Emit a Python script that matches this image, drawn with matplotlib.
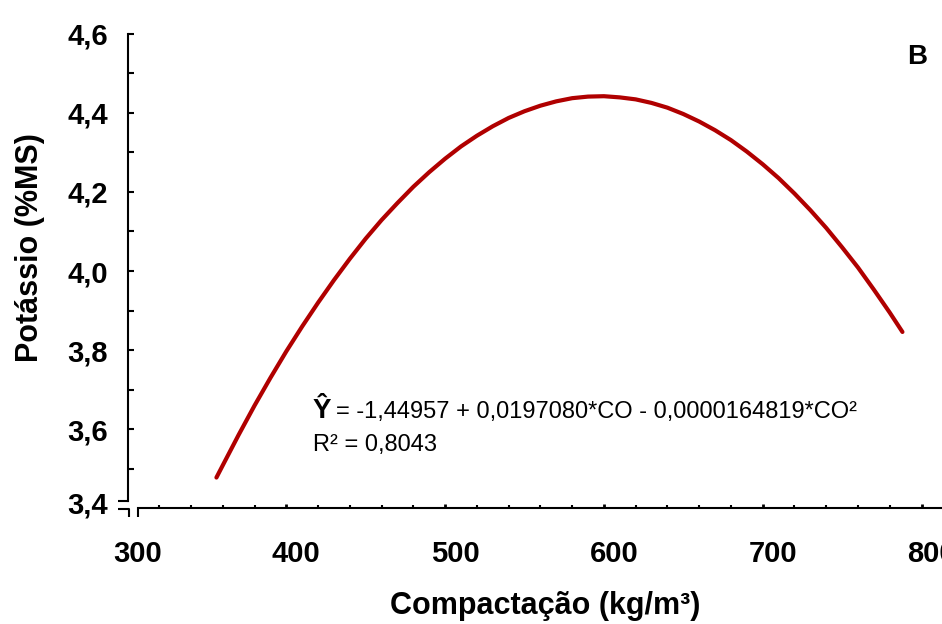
import matplotlib
matplotlib.use("Agg")
import matplotlib.pyplot as plt
from matplotlib.ticker import MultipleLocator, FixedLocator
from matplotlib.transforms import ScaledTranslation

# values
compactacao = [356, 360, 370, 380, 390, 400, 410, 420, 430, 440, 450, 460,
               470, 480, 490, 500, 510, 520, 530, 540, 550, 560, 570, 580,
               590, 600, 610, 620, 630, 640, 650, 660, 670, 680, 690, 700,
               710, 720, 730, 740, 750, 760, 770, 780, 788]
potassio = [3.478, 3.509, 3.586, 3.660, 3.730, 3.797, 3.860, 3.920, 3.977,
            4.031, 4.082, 4.129, 4.172, 4.213, 4.250, 4.284, 4.315, 4.342,
            4.366, 4.387, 4.404, 4.418, 4.429, 4.437, 4.441, 4.442, 4.439,
            4.434, 4.425, 4.413, 4.397, 4.378, 4.356, 4.331, 4.302, 4.270,
            4.235, 4.196, 4.154, 4.109, 4.060, 4.009, 3.953, 3.895, 3.846]

x_ticks = [300, 400, 500, 600, 700, 800]
y_ticks = [3.4, 3.6, 3.8, 4.0, 4.2, 4.4, 4.6]
y_tick_labels = ["3,4", "3,6", "3,8", "4,0", "4,2", "4,4", "4,6"]

equation = "= -1,44957 + 0,0197080*CO - 0,0000164819*CO²"
r2_text = "R² = 0,8043"

W, H = 942, 624
plt.rcParams["font.family"] = ["Liberation Sans", "DejaVu Sans"]

fig = plt.figure(figsize=(W / 100, H / 100), dpi=100)
# axes placed in pixels: x=300 at px 127.5, y=3.4 at px 508.4, y=4.6 at px 33.7
left, right, top, bottom = 127.5, 942, 33.7, 508.4
ax = fig.add_axes([left / W, 1 - bottom / H, (right - left) / W, (bottom - top) / H])
ax.set_xlim(300, 300 + (right - left) / 1.588)
ax.set_ylim(3.4, 4.6)

ax.plot(compactacao, potassio, color="#B00000", linewidth=3.0,
        solid_capstyle="round", clip_on=False)

for side in ["top", "right"]:
    ax.spines[side].set_visible(False)
for side in ["left", "bottom"]:
    ax.spines[side].set_linewidth(1.5)
ax.spines["left"].set_bounds(3.4195, 4.6)
ax.spines["bottom"].set_bounds(306.4, ax.get_xlim()[1])

ax.xaxis.set_major_locator(FixedLocator(x_ticks))
ax.xaxis.set_minor_locator(MultipleLocator(20))
ax.set_xticklabels([str(v) for v in x_ticks])
ax.yaxis.set_major_locator(FixedLocator(y_ticks))
ax.yaxis.set_minor_locator(MultipleLocator(0.1))
ax.set_yticklabels(y_tick_labels)

ax.tick_params(axis="y", which="both", direction="in", length=4, width=1.5,
               labelsize=21, pad=14)
ax.tick_params(axis="x", which="major", direction="in", length=3, width=2,
               labelsize=21, pad=23)
ax.tick_params(axis="x", which="minor", direction="in", length=2.5, width=1.5)
for lab in ax.get_xticklabels() + ax.get_yticklabels():
    lab.set_fontweight("bold")

# x labels sit a little right of their ticks in the reference
dx = ScaledTranslation(10 / 100, 0, fig.dpi_scale_trans)
for lab in ax.get_xticklabels():
    lab.set_transform(lab.get_transform() + dx)
ylab0 = ax.get_yticklabels()[0]
ylab0.set_transform(ylab0.get_transform() + ScaledTranslation(0, 6 / 100, fig.dpi_scale_trans))
ax.yaxis.get_major_ticks()[0].tick1line.set_visible(False)
ax.xaxis.get_major_ticks()[0].tick1line.set_visible(False)


# axis break marks, drawn in pixel positions
def px(xp, yp):
    return 300 + (xp - left) / 1.588, 3.4 + (bottom - yp) / 395.6


brk = dict(color="black", linewidth=1.5, clip_on=False, solid_capstyle="butt")
for seg in [[(118.3, 500.7), (128.5, 500.7)],
            [(118.3, 509.3), (128.5, 509.3), (128.5, 516.7)],
            [(137.7, 509.3), (137.7, 516.7)]]:
    xs, ys = zip(*[px(a, b) for a, b in seg])
    ax.plot(xs, ys, **brk)

fig.text(30 / W, 1 - 248 / H, "Potássio (%MS)", rotation=90, fontsize=22,
         fontweight="bold", ha="center", va="center")
fig.text(545 / W, 1 - 606 / H, "Compactação (kg/m³)", fontsize=22,
         fontweight="bold", ha="center", va="center")
fig.text(917 / W, 1 - 57 / H, "B", fontsize=20, fontweight="bold",
         ha="center", va="center")

fig.text(313 / W, 1 - 411 / H, "Ŷ", fontsize=20, fontweight="bold",
         ha="left", va="center")
fig.text(336 / W, 1 - 412 / H, equation, fontsize=17, ha="left", va="center")
fig.text(313 / W, 1 - 445 / H, r2_text, fontsize=17, ha="left", va="center")

fig.savefig("out.png", dpi=100)
